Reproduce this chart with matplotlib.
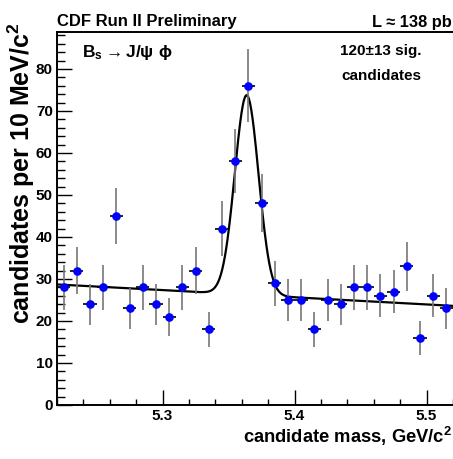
import numpy as np
import matplotlib
matplotlib.use("Agg")
from matplotlib import pyplot as plt
from matplotlib.ticker import MultipleLocator

# B_s -> J/psi phi candidates, 10 MeV bins
mass = [5.225, 5.235, 5.245, 5.255, 5.265, 5.275, 5.285, 5.295, 5.305, 5.315,
        5.325, 5.335, 5.345, 5.355, 5.365, 5.375, 5.385, 5.395, 5.405, 5.415,
        5.425, 5.435, 5.445, 5.455, 5.465, 5.475, 5.485, 5.495, 5.505, 5.515]
counts = [28, 32, 24, 28, 45, 23, 28, 24, 21, 28,
          32, 18, 42, 58, 76, 48, 29, 25, 25, 18,
          25, 24, 28, 28, 26, 27, 33, 16, 26, 23]
half_bin = 0.005

# fit: gaussian + linear background
fit_mean = 5.3637
fit_sigma = 0.0090
fit_peak = 47.5
bkg_at_lo = 28.7
bkg_at_hi = 23.6
x_lo, x_hi = 5.22, 5.52

plt.rcParams['font.family'] = ['Liberation Sans', 'DejaVu Sans']
plt.rcParams['font.weight'] = 'bold'
plt.rcParams['mathtext.fontset'] = 'custom'
plt.rcParams['mathtext.rm'] = 'Liberation Sans'
plt.rcParams['mathtext.it'] = 'Liberation Sans'
plt.rcParams['mathtext.bf'] = 'Liberation Sans:bold'

fig = plt.figure(figsize=(4.53, 4.59), dpi=100)
ax = fig.add_axes([57/453, 54/459, 1 - 57/453, 373/459])

xf = np.linspace(x_lo, x_hi, 600)
bkg = bkg_at_lo + (bkg_at_hi - bkg_at_lo) * (xf - x_lo) / (x_hi - x_lo)
yf = bkg + fit_peak * np.exp(-0.5 * ((xf - fit_mean) / fit_sigma) ** 2)
ax.plot(xf, yf, color='black', lw=1.6, zorder=2)

err = np.sqrt(counts)
ax.errorbar(mass, counts, yerr=err, fmt='none', ecolor='#777777', elinewidth=1.2, zorder=3)
ax.errorbar(mass, counts, xerr=half_bin, fmt='none', ecolor='black', elinewidth=1.2, zorder=3)
ax.plot(mass, counts, 'o', color='#0000ff', ms=5.2, zorder=4)

ax.set_xlim(x_lo, x_hi)
ax.set_ylim(0, 88.8)
ax.xaxis.set_major_locator(MultipleLocator(0.1))
ax.xaxis.set_minor_locator(MultipleLocator(0.02))
ax.yaxis.set_major_locator(MultipleLocator(10))
ax.yaxis.set_minor_locator(MultipleLocator(2))
ax.tick_params(axis='both', which='both', direction='in', width=1, labelsize=11, pad=3)
ax.tick_params(axis='y', which='major', length=11)
ax.tick_params(axis='y', which='minor', length=6)
ax.tick_params(axis='x', which='major', length=11)
ax.tick_params(axis='x', which='minor', length=4.5)
for lab in ax.get_xticklabels() + ax.get_yticklabels():
    lab.set_fontweight('bold')
ax.spines['right'].set_visible(False)
for s in ['left', 'bottom', 'top']:
    ax.spines[s].set_linewidth(1.4)

fig.text(57/453, 1 - 26/459, "CDF Run II Preliminary", fontsize=12, ha='left', va='baseline')
fig.text(452/453, 1 - 27/459, "L \u2248 138 pb", fontsize=11.8, ha='right', va='baseline')
fig.text(82/453, 1 - 57/459, r"$\mathbf{B_s}\rightarrow\mathbf{J/}\psi\ \phi$", fontsize=12.5,
         ha='left', va='baseline')
fig.text(381/453, 1 - 55/459, "120\u00b113 sig.", fontsize=11, ha='center', va='baseline')
fig.text(381/453, 1 - 80/459, "candidates", fontsize=11, ha='center', va='baseline')
fig.text(452/453, 1 - 443/459, r"candidate mass, GeV/c$^\mathbf{2}$", fontsize=13.2,
         ha='right', va='baseline')
fig.text(30/453, 1 - 22/459, r"candidates per 10 MeV/c$^\mathbf{2}$", fontsize=18,
         rotation=90, rotation_mode='anchor', ha='right', va='baseline')

plt.savefig('out.png', dpi=100)
